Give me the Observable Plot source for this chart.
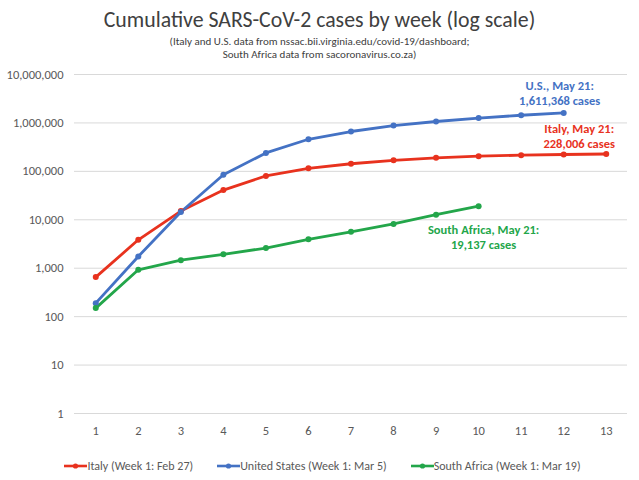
<!DOCTYPE html>
<html><head><meta charset="utf-8">
<script src="https://cdn.jsdelivr.net/npm/d3@7"></script>
<script src="https://cdn.jsdelivr.net/npm/@observablehq/plot@0.6"></script>
<style>
body{margin:0;background:#fff;font-family:Carlito,Lato,sans-serif;width:639px;overflow:hidden;}
#title{padding-top:5px;height:30px;line-height:30px;font-size:21.8px;color:#404040;text-align:center;}
#sub{font-size:11px;line-height:13px;color:#404040;text-align:center;height:26px;}
#legend{height:40px;display:flex;justify-content:center;align-items:center;gap:24px;font-size:12px;color:#595959;padding-left:6px;}
#legend span{display:flex;align-items:center;}
</style></head><body>
<div id="title">Cumulative SARS-CoV-2 cases by week (log scale)</div>
<div id="sub">(Italy and U.S. data from nssac.bii.virginia.edu/covid-19/dashboard;<br>South Africa data from sacoronavirus.co.za)</div>
<div id="chart"></div>
<div id="legend"></div>
<script>
const weeks = [1,2,3,4,5,6,7,8,9,10,11,12,13];
const italy = [655,3858,15113,41035,80539,115242,143626,168941,189973,205463,215858,223096,228006];
const unitedStates = [190,1750,14500,85000,240000,460000,665000,880000,1070000,1260000,1440000,1611368];
const southAfrica = [150,927,1462,1934,2605,3953,5647,8232,12739,19137];
const seriesNames = ["Italy (Week 1: Feb 27)","United States (Week 1: Mar 5)","South Africa (Week 1: Mar 19)"];
const seriesColors = ["#e8321e","#4472c4","#23a64a"];
const yTicks = [1,10,100,1000,10000,100000,1000000,10000000];
const endLabels = ["Italy, May 21:\n228,006 cases","U.S., May 21:\n1,611,368 cases","South Africa, May 21:\n19,137 cases"];

const seriesValues = [italy, unitedStates, southAfrica];
const data = seriesValues.flatMap((vals, i) => vals.map((v, j) => ({week: weeks[j], value: v, series: seriesNames[i]})));
const lastPts = seriesValues.map((vals, i) => ({week: weeks[vals.length-1], value: vals[vals.length-1], label: endLabels[i], color: seriesColors[i]}));

const fmt = d3.format(",");
const chart = Plot.plot({
  width: 639,
  height: 385,
  marginTop: 13,
  marginBottom: 33,
  marginLeft: 74,
  marginRight: 12,
  style: {fontFamily: "Carlito, Lato, sans-serif", color: "#595959", background: "#fff"},
  x: {type: "linear", domain: [0.5, 13.5]},
  y: {type: "log", domain: [1, 10000000]},
  color: {domain: seriesNames, range: seriesColors},
  marks: [
    Plot.gridY(yTicks, {stroke: "#d9d9d9", strokeOpacity: 1, strokeWidth: 1}),
    Plot.axisY(yTicks, {tickSize: 0, tickPadding: 11, tickFormat: fmt, fontSize: 12.5, fill: "#595959", label: null}),
    Plot.axisX(weeks, {tickSize: 0, tickPadding: 13, tickFormat: d => String(d), fontSize: 12.5, fill: "#595959", label: null}),
    Plot.line(data, {x: "week", y: "value", z: "series", stroke: "series", strokeWidth: 2.8}),
    Plot.dot(data, {x: "week", y: "value", fill: "series", r: 3}),
    Plot.text([lastPts[0]], {x: "week", y: "value", text: "label", fill: "color", dx: -27, dy: -18, fontWeight: "bold", fontSize: 12.5, lineHeight: 1.2}),
    Plot.text([lastPts[1]], {x: "week", y: "value", text: "label", fill: "color", dx: -4, dy: -20, fontWeight: "bold", fontSize: 12.5, lineHeight: 1.2}),
    Plot.text([lastPts[2]], {x: "week", y: "value", text: "label", fill: "color", dx: 5, dy: 31, fontWeight: "bold", fontSize: 12.5, lineHeight: 1.2})
  ]
});
document.getElementById("chart").appendChild(chart);

const legend = d3.select("#legend");
seriesNames.forEach((name, i) => {
  const item = legend.append("span");
  const sw = item.append("svg").attr("width", 23).attr("height", 10);
  sw.append("line").attr("x1", 0).attr("x2", 23).attr("y1", 5).attr("y2", 5).attr("stroke", seriesColors[i]).attr("stroke-width", 2.6);
  sw.append("circle").attr("cx", 11.5).attr("cy", 5).attr("r", 2.6).attr("fill", seriesColors[i]);
  item.append("span").text(name);
});
</script>
</body></html>
